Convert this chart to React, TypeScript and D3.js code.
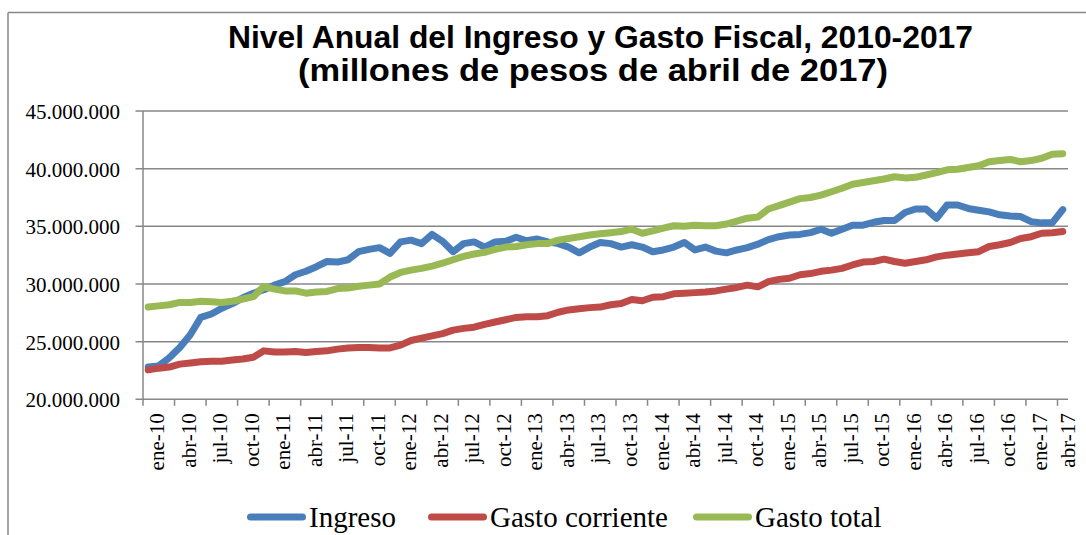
import React from "react";
import * as d3 from "d3";

// valores en millones (x 1.000.000), mensuales ene-10 .. abr-17
const UNIT = 1000000;

const monthNames = ["ene", "feb", "mar", "abr", "may", "jun", "jul", "ago", "sep", "oct", "nov", "dic"];
const years = ["10", "11", "12", "13", "14", "15", "16", "17"];
const lastMonthIndex = 3; // abr-17

const ingreso = [
  22.8, 22.9, 23.6, 24.5, 25.6, 27.1, 27.4, 27.9, 28.3, 28.8, 29.2, 29.5,
  29.9, 30.2, 30.8, 31.1, 31.5, 31.95, 31.9, 32.1, 32.8, 33.0, 33.15, 32.65,
  33.65, 33.8, 33.5, 34.3, 33.7, 32.8, 33.5, 33.65, 33.2, 33.65, 33.7, 34.05,
  33.75, 33.9, 33.65, 33.5, 33.2, 32.7, 33.2, 33.6, 33.5, 33.2, 33.4, 33.2,
  32.8, 32.95, 33.2, 33.6, 32.95, 33.2, 32.85, 32.7, 32.95, 33.15, 33.45, 33.85,
  34.1, 34.25, 34.3, 34.45, 34.75, 34.4, 34.75, 35.1, 35.1, 35.35, 35.5, 35.5,
  36.2, 36.5, 36.5, 35.7, 36.85, 36.85, 36.55, 36.4, 36.25, 36.0, 35.9, 35.85,
  35.4, 35.3, 35.3, 36.45,
];

const gastoCorriente = [
  22.55, 22.7, 22.8, 23.05, 23.15, 23.25, 23.3, 23.3, 23.4, 23.5, 23.65, 24.2,
  24.1, 24.1, 24.15, 24.05, 24.15, 24.2, 24.35, 24.45, 24.5, 24.5, 24.45, 24.45,
  24.7, 25.1, 25.3, 25.5, 25.7, 26.0, 26.15, 26.25, 26.5, 26.7, 26.9, 27.1,
  27.15, 27.15, 27.25, 27.55, 27.75, 27.85, 27.95, 28.0, 28.2, 28.3, 28.65, 28.55,
  28.85, 28.9, 29.15, 29.2, 29.25, 29.3, 29.4, 29.55, 29.7, 29.9, 29.75, 30.2,
  30.4, 30.5, 30.8, 30.9, 31.1, 31.2, 31.35, 31.65, 31.9, 31.95, 32.15, 31.95,
  31.8, 31.95, 32.1, 32.35, 32.5, 32.6, 32.7, 32.8, 33.25, 33.4, 33.6, 33.95,
  34.1, 34.4, 34.45, 34.55,
];

const gastoTotal = [
  28.0, 28.1, 28.2, 28.4, 28.4, 28.5, 28.45, 28.4, 28.5, 28.7, 28.9, 29.8,
  29.55, 29.4, 29.4, 29.2, 29.3, 29.35, 29.6, 29.65, 29.8, 29.9, 30.0, 30.6,
  31.0, 31.2, 31.35, 31.55, 31.8, 32.1, 32.4, 32.6, 32.75, 33.0, 33.2, 33.25,
  33.4, 33.5, 33.5, 33.8, 33.95, 34.1, 34.25, 34.35, 34.45, 34.55, 34.75, 34.4,
  34.6, 34.85, 35.05, 35.0, 35.1, 35.05, 35.05, 35.2, 35.45, 35.7, 35.8, 36.5,
  36.8, 37.1, 37.4, 37.5, 37.7, 38.0, 38.3, 38.65, 38.8, 38.95, 39.1, 39.3,
  39.2, 39.25, 39.45, 39.65, 39.9, 39.95, 40.1, 40.25, 40.6, 40.7, 40.8, 40.6,
  40.7, 40.9, 41.25, 41.3,
];

const yTicks = [20000000, 25000000, 30000000, 35000000, 40000000, 45000000];

const seriesNames = ["Ingreso", "Gasto corriente", "Gasto total"];
const seriesColors = ["#4A7EBB", "#BE4B48", "#98B954"];
const seriesValues = [ingreso, gastoCorriente, gastoTotal];

const titleLines = ["Nivel Anual del Ingreso y Gasto Fiscal, 2010-2017", "(millones de pesos de abril de 2017)"];

const categories: string[] = [];
years.forEach((yy, yi) => {
  monthNames.forEach((m, mi) => {
    if (yi === years.length - 1 && mi > lastMonthIndex) return;
    categories.push(`${m}-${yy}`);
  });
});

const W = 1086;
const H = 535;
const plot = { left: 143, right: 1068, top: 111, bottom: 399.3 };
const gridColor = "#878787";
const serif = "'Liberation Serif', 'Times New Roman', serif";

const fmt = (v: number) => d3.format(",")(v).replace(/,/g, ".");

export default function App() {
  const xb = d3.scaleLinear().domain([0, categories.length]).range([plot.left, plot.right]);
  const xc = (i: number) => xb(i + 0.5);
  const y = d3.scaleLinear().domain([20000000, 45000000]).range([plot.bottom, plot.top]);

  const line = d3
    .line<number>()
    .x((_, i) => xc(i))
    .y((d) => y(d * UNIT));

  const tickIdx = d3.range(0, categories.length, 3);
  const legendX = [247, 428, 693];
  // title line centres / widths as laid out in the original
  const titleBox = [
    { cx: 600.5, w: 745, y: 48 },
    { cx: 593, w: 590, y: 81 },
  ];

  return (
    <svg width={W} height={H} style={{ position: "absolute", left: 0, top: 0, background: "#fff" }}>
      {/* frame */}
      <line x1={8} y1={12.5} x2={W} y2={12.5} stroke={gridColor} strokeWidth={1.5} />
      <line x1={8} y1={12.5} x2={8} y2={H} stroke={gridColor} strokeWidth={1.5} />

      {/* title */}
      {titleLines.map((t, i) => (
        <text
          key={t}
          x={titleBox[i].cx - titleBox[i].w / 2}
          y={titleBox[i].y}
          textLength={titleBox[i].w}
          lengthAdjust="spacingAndGlyphs"
          fontFamily="'Liberation Sans', Arial, sans-serif"
          fontWeight="bold"
          fontSize={31}
          fill="#000"
        >
          {t}
        </text>
      ))}

      {/* grid + y labels */}
      {yTicks.map((t) => (
        <g key={t}>
          <line x1={135.5} x2={plot.right} y1={y(t)} y2={y(t)} stroke={gridColor} strokeWidth={1.5} />
          <text x={120} y={y(t) + 8} textAnchor="end" fontFamily={serif} fontSize={21} fill="#000">
            {fmt(t)}
          </text>
        </g>
      ))}

      {/* axes */}
      <line x1={plot.left} x2={plot.left} y1={plot.top} y2={plot.bottom} stroke={gridColor} strokeWidth={1.5} />
      {tickIdx.map((i) => (
        <g key={i}>
          <line x1={xb(i)} x2={xb(i)} y1={plot.bottom} y2={plot.bottom + 6.5} stroke={gridColor} strokeWidth={1.5} />
          <text
            transform={`translate(${Math.min(xb(i) + 21, 1075)},${plot.bottom + 14}) rotate(-90)`}
            textAnchor="end"
            fontFamily={serif}
            fontSize={21}
            fill="#000"
          >
            {categories[i]}
          </text>
        </g>
      ))}

      {/* series */}
      {seriesValues.map((vals, s) => (
        <path
          key={seriesNames[s]}
          d={line(vals) || ""}
          fill="none"
          stroke={seriesColors[s]}
          strokeWidth={7}
          strokeLinejoin="round"
          strokeLinecap="round"
        />
      ))}

      {/* legend */}
      {seriesNames.map((n, s) => (
        <g key={n} transform={`translate(${legendX[s]},517)`}>
          <line x1={3.5} x2={55.5} y1={0} y2={0} stroke={seriesColors[s]} strokeWidth={7} strokeLinecap="round" />
          <text x={62} y={10} fontFamily={serif} fontSize={29} fill="#000">
            {n}
          </text>
        </g>
      ))}
    </svg>
  );
}
